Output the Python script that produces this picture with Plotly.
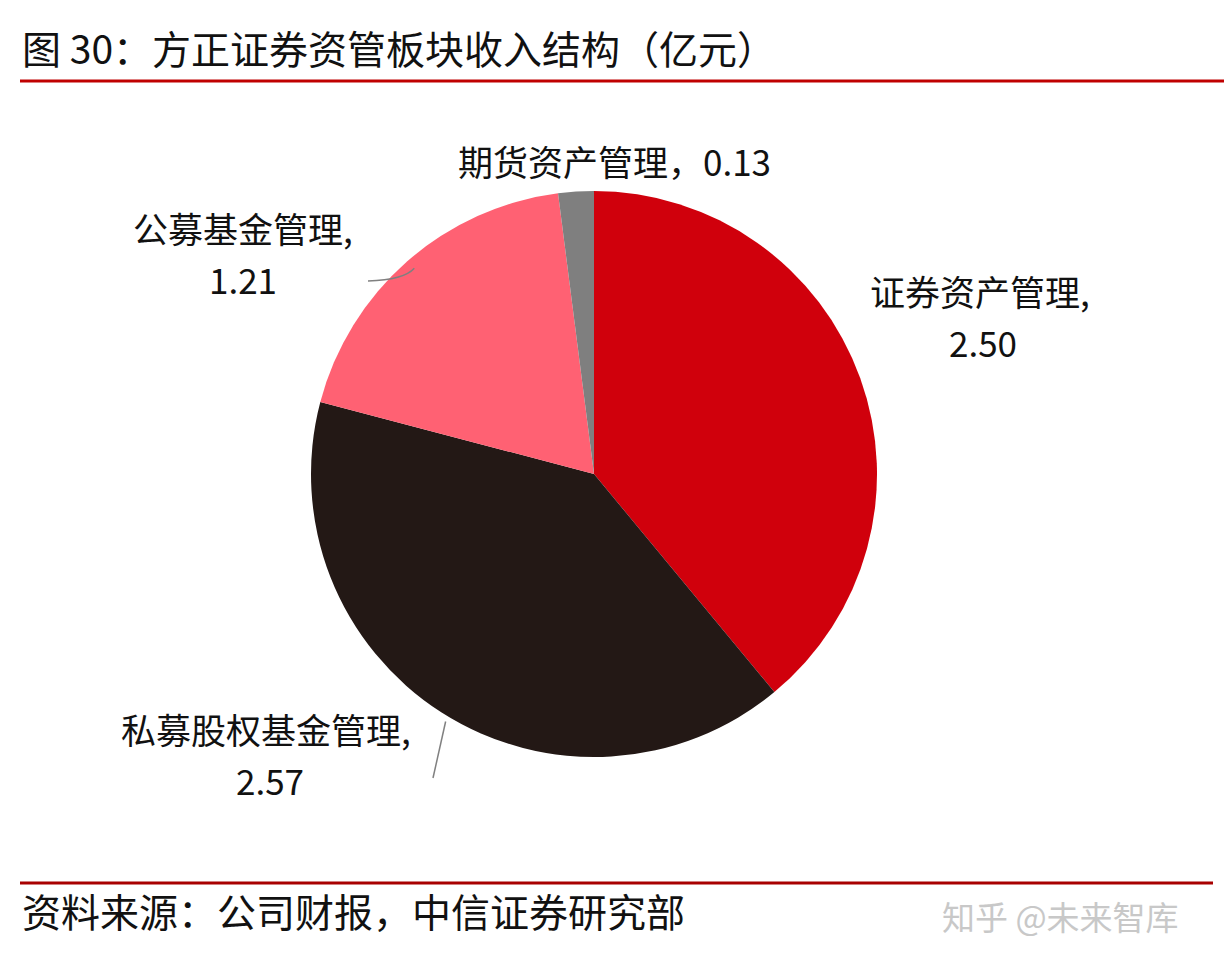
import math
import plotly.graph_objects as go

# ---- data ----
categories = ["证券资产管理", "私募股权基金管理", "公募基金管理", "期货资产管理"]
values = [2.50, 2.57, 1.21, 0.13]
colors = ["#D0000C", "#231815", "#FF6173", "#7F7F7F"]
title_text = "图 30：方正证券资管板块收入结构（亿元）"
source_text = "资料来源：公司财报，中信证券研究部"
watermark_text = "知乎 @未来智库"

W, H = 1232, 968
cx, cy, R = 593, 473, 283  # desired pie centre / radius in px (top-left origin)
DX, DY = -7, -7            # correction for plotly's internal pie offset

FONT = "Noto Sans CJK SC, Noto Sans, sans-serif"
YOFF = -8  # glyph-centre correction for CJK font metrics

def px(x):
    return x / W

def py(y):
    return 1 - y / H

fig = go.Figure()
fig.add_trace(go.Pie(
    labels=categories,
    values=values,
    marker=dict(colors=colors, line=dict(width=0)),
    sort=False,
    direction="clockwise",
    rotation=0,
    textinfo="none",
    showlegend=False,
    domain=dict(x=[px(cx - R + DX), px(cx + R + DX)], y=[py(cy + R + DY), py(cy - R + DY)]),
))

# mid-angle edge points of slices (clockwise from 12 o'clock)
total = sum(values)
edge = []
acc = 0.0
for v in values:
    mid = (acc + v / 2) / total * 2 * math.pi
    edge.append((cx + R * math.sin(mid), cy - R * math.cos(mid)))
    acc += v

annotations = []
def add_text(text, x, y, size=35, color="#111111", xanchor="center"):
    annotations.append(dict(text=text, x=px(x), y=py(y + YOFF), xref="paper", yref="paper",
                            showarrow=False, xanchor=xanchor, yanchor="middle", align="center",
                            font=dict(family=FONT, size=size, color=color)))

LS = 51  # line spacing of two-line labels
# labels (two lines each, except the small slice)
add_text(categories[0] + ",", 972, 290)
add_text(f"{values[0]:.2f}", 975, 290 + LS)
add_text(categories[1] + ",", 258, 728)
add_text(f"{values[1]:.2f}", 262, 728 + LS)
add_text(categories[2] + ",", 235, 227)
add_text(f"{values[2]:.2f}", 235, 227 + LS)
add_text(categories[3] + "，" + f"{values[3]:.2f}", 606, 160)

# title / source / watermark
add_text(title_text, 12, 47, size=39, xanchor="left")
add_text(source_text, 12, 910, size=39, xanchor="left")
add_text(watermark_text, 932, 916, size=33, color="#C8C8C8", xanchor="left")

shapes = [
    dict(type="line", xref="paper", yref="paper", x0=px(12), x1=px(1220), y0=py(73), y1=py(73),
         line=dict(color="#C00000", width=3)),
    dict(type="line", xref="paper", yref="paper", x0=px(12), x1=px(1205), y0=py(875), y1=py(875),
         line=dict(color="#A80000", width=3)),
    # leader lines
    dict(type="path", xref="paper", yref="paper",
         path=f"M {px(edge[2][0])} {py(edge[2][1])} Q {px(396)} {py(272)} {px(360)} {py(273)}",
         line=dict(color="#808080", width=1.5)),
    dict(type="line", xref="paper", yref="paper",
         x0=px(edge[1][0] - 3), y0=py(edge[1][1] + 2), x1=px(425), y1=py(770),
         line=dict(color="#808080", width=1.5)),
]

fig.update_layout(
    width=W, height=H,
    margin=dict(l=0, r=0, t=0, b=0),
    paper_bgcolor="white", plot_bgcolor="white",
    annotations=annotations, shapes=shapes,
)

fig.write_html("out.html")
